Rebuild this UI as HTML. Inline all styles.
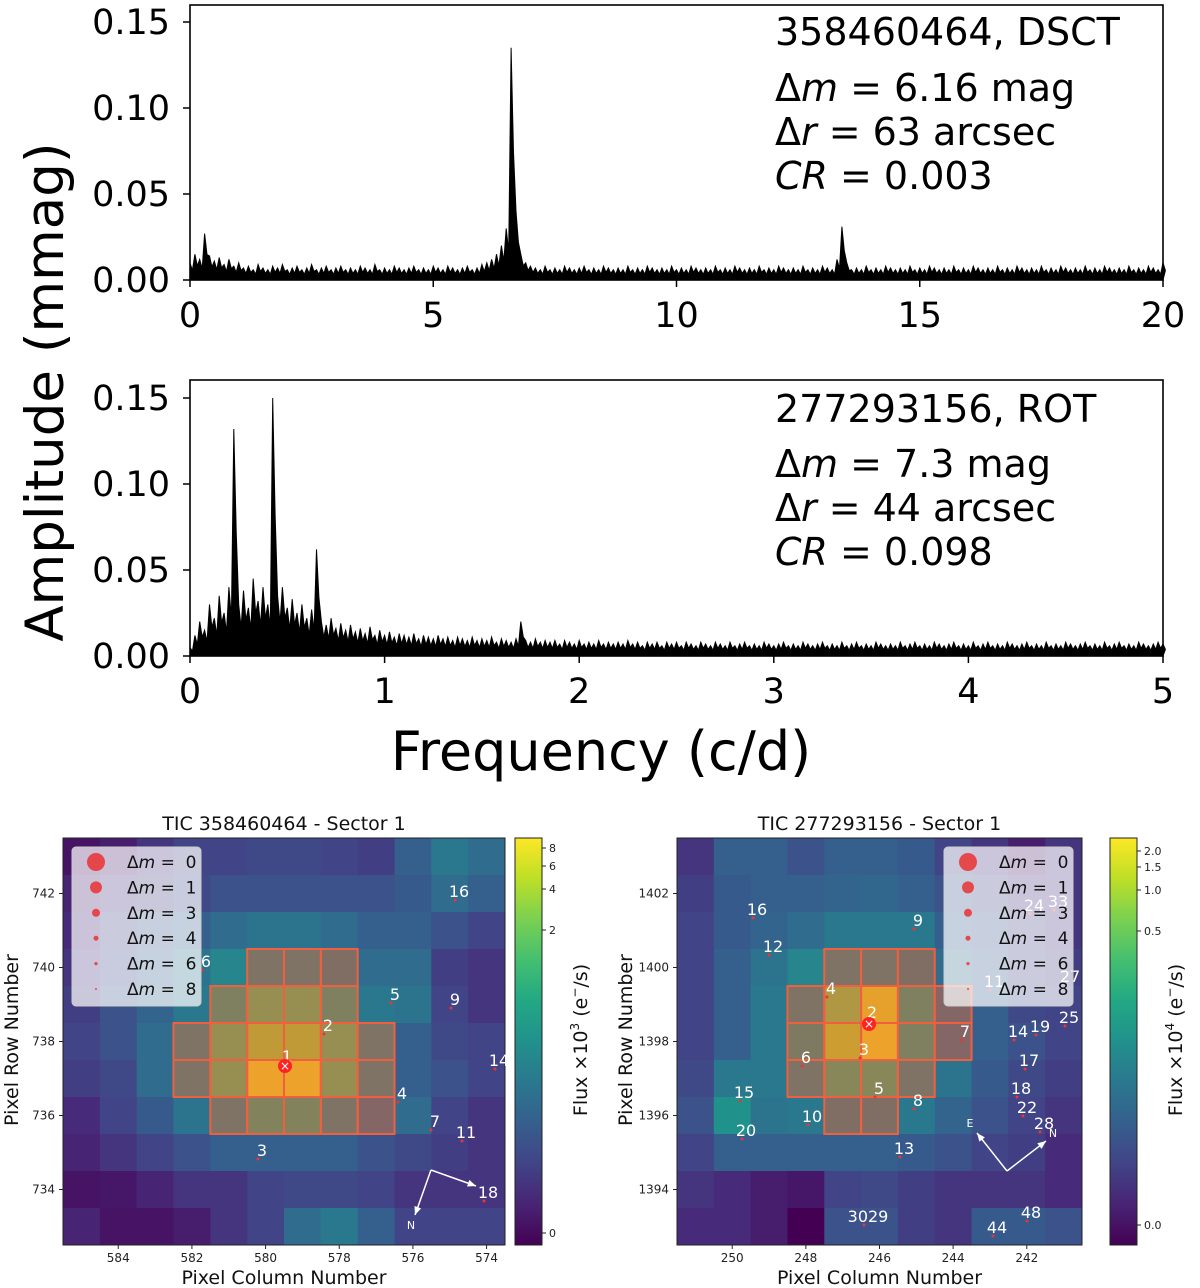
<!DOCTYPE html>
<html><head><meta charset="utf-8"><style>
html,body{margin:0;padding:0;background:#fff}
svg{display:block;font-family:"DejaVu Sans","Liberation Sans",sans-serif}
</style></head><body>
<svg id="fig" width="1200" height="1288" viewBox="0 0 1200 1288" xmlns="http://www.w3.org/2000/svg">
<g id="top"></g><g id="bot"></g><g id="hl"></g><g id="hr"></g>
</svg>
<script>
// ---- Spectrum data ----
const topFreqStep = 0.1;
const topAmp = [0.010,0.015,0.012,0.027,0.014,0.011,0.013,0.009,0.012,0.008,0.010,
0.007,0.008,0.006,0.009,0.007,0.006,0.008,0.007,0.009,0.006,0.007,0.008,0.006,0.007,0.009,0.006,0.007,0.008,0.006,0.007,
0.008,0.006,0.007,0.006,0.008,0.007,0.006,0.009,0.006,0.007,0.006,0.008,0.007,0.006,0.007,0.008,0.006,0.007,0.006,0.008,
0.007,0.006,0.008,0.007,0.006,0.007,0.008,0.006,0.007,0.009,0.010,0.012,0.015,0.020,0.030,0.135,0.040,0.015,0.010,0.008,
0.007,0.006,0.008,0.006,0.007,0.006,0.008,0.007,0.006,0.007,0.008,0.006,0.007,0.006,0.008,0.007,0.006,0.007,0.006,0.008,
0.006,0.007,0.006,0.008,0.007,0.006,0.007,0.006,0.008,0.006,0.007,0.006,0.008,0.007,0.006,0.007,0.006,0.008,0.006,0.007,
0.006,0.008,0.007,0.006,0.007,0.006,0.008,0.006,0.007,0.006,0.008,0.007,0.006,0.007,0.006,0.008,0.006,0.007,0.006,0.008,
0.007,0.006,0.012,0.031,0.010,0.006,0.007,0.006,0.008,0.006,0.007,0.006,0.008,0.007,0.006,0.007,0.006,0.008,0.006,0.007,
0.006,0.008,0.007,0.006,0.007,0.006,0.008,0.006,0.007,0.006,0.008,0.007,0.006,0.007,0.006,0.008,0.006,0.007,0.006,0.008,
0.007,0.006,0.007,0.006,0.008,0.006,0.007,0.006,0.008,0.007,0.006,0.007,0.006,0.008,0.006,0.007,0.006,0.008,0.007,0.006,
0.007,0.006,0.008,0.006,0.007,0.006,0.008,0.007,0.006,0.010];
const botFreqStep = 0.025;
const botAmp = [0.005,0.012,0.020,0.015,0.030,0.022,0.035,0.025,0.040,0.132,0.030,0.038,0.028,0.045,0.032,0.040,0.030,0.150,0.035,0.040,
0.028,0.033,0.025,0.030,0.022,0.027,0.062,0.020,0.018,0.022,0.016,0.019,0.015,0.018,0.014,0.016,0.013,0.017,0.012,0.015,
0.012,0.014,0.011,0.013,0.012,0.011,0.013,0.010,0.012,0.011,0.010,0.012,0.010,0.011,0.009,0.011,0.010,0.009,0.011,0.009,
0.010,0.009,0.011,0.008,0.010,0.009,0.008,0.010,0.020,0.009,0.008,0.010,0.008,0.009,0.008,0.009,0.007,0.009,0.008,0.007,
0.009,0.007,0.008,0.007,0.009,0.007,0.008,0.007,0.008,0.007,0.009,0.007,0.008,0.006,0.008,0.007,0.008,0.006,0.008,0.007,
0.008,0.006,0.008,0.007,0.006,0.008,0.007,0.006,0.008,0.007,0.006,0.008,0.006,0.007,0.008,0.006,0.007,0.006,0.008,0.007,
0.006,0.007,0.008,0.006,0.007,0.006,0.008,0.007,0.006,0.007,0.008,0.006,0.007,0.006,0.008,0.006,0.007,0.008,0.006,0.007,
0.006,0.008,0.007,0.006,0.007,0.006,0.008,0.006,0.007,0.008,0.006,0.007,0.006,0.008,0.007,0.006,0.007,0.008,0.006,0.007,
0.006,0.008,0.006,0.007,0.008,0.006,0.007,0.006,0.008,0.007,0.006,0.007,0.008,0.006,0.007,0.006,0.008,0.006,0.007,0.006,
0.008,0.007,0.006,0.007,0.008,0.006,0.007,0.006,0.008,0.006,0.007,0.008,0.006,0.007,0.006,0.008,0.007,0.006,0.007,0.008,0.007];
const yTicks = [0, 0.05, 0.10, 0.15];
const yTickLabels = ["0.00","0.05","0.10","0.15"];
const topXTicks = [0,5,10,15,20];
const botXTicks = [0,1,2,3,4,5];

// ---- Heatmap data (normalized flux 0..1) ----
const leftCols = [585,584,583,582,581,580,579,578,577,576,575,574];
const leftRows = [743,742,741,740,739,738,737,736,735,734,733];
const leftFlux = [
[0.05,0.08,0.15,0.20,0.20,0.22,0.22,0.20,0.18,0.30,0.40,0.35],
[0.10,0.15,0.18,0.22,0.25,0.25,0.25,0.25,0.25,0.28,0.35,0.30],
[0.12,0.20,0.25,0.30,0.35,0.38,0.38,0.35,0.30,0.30,0.25,0.20],
[0.15,0.22,0.30,0.38,0.45,0.50,0.50,0.45,0.35,0.35,0.18,0.15],
[0.18,0.25,0.32,0.40,0.60,0.72,0.72,0.60,0.40,0.38,0.20,0.15],
[0.20,0.25,0.35,0.50,0.72,0.85,0.85,0.72,0.50,0.30,0.22,0.20],
[0.18,0.22,0.35,0.50,0.72,0.97,0.97,0.72,0.50,0.30,0.25,0.20],
[0.12,0.20,0.28,0.38,0.50,0.62,0.62,0.50,0.40,0.35,0.20,0.15],
[0.10,0.15,0.20,0.25,0.30,0.30,0.30,0.30,0.25,0.22,0.18,0.15],
[0.05,0.06,0.10,0.15,0.15,0.20,0.22,0.22,0.20,0.15,0.15,0.15],
[0.10,0.05,0.05,0.08,0.15,0.20,0.35,0.40,0.30,0.20,0.20,0.20]];
const leftAperture = [[3,5],[3,6],[3,7],[4,4],[4,5],[4,6],[4,7],[5,3],[5,4],[5,5],[5,6],[5,7],[5,8],[6,3],[6,4],[6,5],[6,6],[6,7],[6,8],[7,4],[7,5],[7,6],[7,7],[7,8]];
const rightCols = [251,250,249,248,247,246,245,244,243,242,241];
const rightRows = [1403,1402,1401,1400,1399,1398,1397,1396,1395,1394,1393];
const rightFlux = [
[0.15,0.30,0.30,0.25,0.30,0.30,0.28,0.20,0.15,0.08,0.15],
[0.18,0.28,0.30,0.30,0.32,0.33,0.30,0.25,0.20,0.15,0.15],
[0.20,0.28,0.32,0.35,0.40,0.40,0.40,0.30,0.25,0.20,0.15],
[0.20,0.30,0.38,0.45,0.50,0.50,0.45,0.35,0.28,0.20,0.18],
[0.20,0.30,0.40,0.50,0.80,0.95,0.60,0.40,0.30,0.22,0.20],
[0.20,0.30,0.40,0.55,0.88,0.97,0.60,0.40,0.30,0.25,0.20],
[0.22,0.40,0.40,0.50,0.65,0.65,0.50,0.38,0.28,0.22,0.18],
[0.25,0.50,0.38,0.40,0.45,0.45,0.40,0.32,0.25,0.20,0.15],
[0.20,0.30,0.30,0.30,0.30,0.30,0.28,0.25,0.20,0.18,0.12],
[0.15,0.12,0.08,0.06,0.20,0.22,0.18,0.15,0.15,0.15,0.12],
[0.12,0.12,0.08,0.00,0.25,0.25,0.18,0.15,0.28,0.28,0.25]];
const rightAperture = [[3,4],[3,5],[3,6],[4,3],[4,4],[4,5],[4,6],[4,7],[5,3],[5,4],[5,5],[5,6],[5,7],[6,3],[6,4],[6,5],[6,6],[7,4],[7,5]];
const leftStarLabels = [["16",459,891],["6",206,961],["5",395,994],["9",455,999],["2",328,1025],["1",287,1056],["14",499,1060],["4",402,1093],["7",435,1121],["11",466,1132],["3",262,1150],["18",488,1192]];
const rightStarLabels = [["16",757,909],["12",773,946],["9",918,920],["4",831,988],["2",872,1012],["7",965,1031],["3",864,1049],["6",806,1057],["15",744,1092],["5",879,1088],["8",918,1100],["10",812,1116],["20",746,1130],["13",904,1148],["11",994,981],["27",1070,976],["24",1034,905],["33",1058,901],["25",1069,1017],["19",1040,1026],["14",1018,1031],["17",1029,1060],["18",1021,1088],["22",1027,1107],["28",1044,1123],["3029",868,1216],["48",1031,1212],["44",997,1227]];
const legendDm = ["0","1","3","4","6","8"];
const legendR = [9,6,4,2.5,1.6,1];

const NS="http://www.w3.org/2000/svg";
function mk(tag, attrs, parent, text){const e=document.createElementNS(NS,tag);for(const k in attrs)e.setAttribute(k,attrs[k]);if(text!==undefined)e.textContent=text;parent.appendChild(e);return e;}

function spectrum(g, top, bottom, xmax, step, amps, xticks, ann, nm){
  const L=190,R=1163;
  const x=f=>Math.min(R,L+f/xmax*(R-L));
  const y=v=>bottom-v*1720;
  let d="M"+L+","+bottom;
  amps.forEach((a,i)=>{const px=x(i*step);d+="L"+px.toFixed(1)+","+y(a).toFixed(1)+"L"+(px+(x(step)-L)*0.5).toFixed(1)+","+y(a*0.55).toFixed(1);});
  d+="L"+R+","+bottom+"Z";
  const p=mk("path",{d:d,fill:"#000",stroke:"#000","stroke-width":"1","stroke-linejoin":"miter"},g);
  
  
  const b=mk("rect",{x:L,y:top,width:R-L,height:bottom-top,fill:"none",stroke:"#000","stroke-width":"1.6"},g);
  
  
  yTicks.forEach((v,i)=>{
    mk("line",{x1:L-7,x2:L,y1:y(v),y2:y(v),stroke:"#000","stroke-width":"1.5"},g);
    const t=mk("text",{x:170,y:y(v)+12,"text-anchor":"end","font-size":"35"},g,yTickLabels[i]);
    
    
  });
  xticks.forEach(v=>{
    mk("line",{x1:x(v),x2:x(v),y1:bottom,y2:bottom+7,stroke:"#000","stroke-width":"1.5"},g);
    const t=mk("text",{x:x(v),y:bottom+47,"text-anchor":"middle","font-size":"35"},g,String(v));
    
    
  });
  ann.forEach((a,i)=>{
    const t=mk("text",{x:775,y:a[1],"font-size":"38"},g);
    t.innerHTML=a[0];
    
    
  });
}
spectrum(document.getElementById("top"),5,280,20,topFreqStep,topAmp,topXTicks,
 [["358460464, DSCT",45],["Δ<tspan font-style='italic'>m</tspan> = 6.16 mag",101],["Δ<tspan font-style='italic'>r</tspan> = 63 arcsec",145],["<tspan font-style='italic'>CR</tspan> = 0.003",189]],"dsct");
spectrum(document.getElementById("bot"),380,656,5,botFreqStep,botAmp,botXTicks,
 [["277293156, ROT",422],["Δ<tspan font-style='italic'>m</tspan> = 7.3 mag",477],["Δ<tspan font-style='italic'>r</tspan> = 44 arcsec",521],["<tspan font-style='italic'>CR</tspan> = 0.098",565]],"rot");
{
 const s=document.getElementById("fig");
 const yl=mk("text",{x:0,y:0,transform:"translate(63,392) rotate(-90)","text-anchor":"middle","font-size":"53"},s,"Amplitude (mmag)");
 
 
 const xl=mk("text",{x:601,y:770,"text-anchor":"middle","font-size":"54"},s,"Frequency (c/d)");
 
 
}

const vir=[[68,1,84],[72,36,117],[65,68,135],[53,95,141],[42,120,142],[33,145,140],[34,168,132],[68,191,112],[122,209,81],[189,223,38],[253,231,37]];
function viridis(v){v=Math.max(0,Math.min(1,v));const f=v*10,i=Math.min(9,Math.floor(f)),t=f-i;const a=vir[i],b=vir[i+1];return "rgb("+a.map((c,k)=>Math.round(c+(b[k]-c)*t)).join(",")+")";}

function heatmap(g, L, R, T, B, cols, rows, flux, aper, labels, cbX, cbTicks, cbLabel, title, colTicks, rowTicks, legX, legDotX, compass, target, nm){
  const cw=(R-L)/cols.length, rh=(B-T)/rows.length;
  const cx=c=>L+(cols[0]+0.5-c)*cw, ry=r=>T+(rows[0]+0.5-r)*rh;
  flux.forEach((row,i)=>row.forEach((v,j)=>{
    const e=mk("rect",{x:L+j*cw,y:T+i*rh,width:cw+0.5,height:rh+0.5,fill:viridis(v)},g);
    
    
  }));
  aper.forEach(a=>{
    const e=mk("rect",{x:L+a[1]*cw,y:T+a[0]*rh,width:cw,height:rh,fill:"rgba(240,80,50,0.45)",stroke:"#f0603f","stroke-width":"2"},g);
    
    
  });
  mk("rect",{x:L,y:T,width:R-L,height:B-T,fill:"none",stroke:"#222","stroke-width":"1"},g);
  colTicks.forEach(c=>{mk("line",{x1:cx(c),x2:cx(c),y1:B,y2:B+4,stroke:"#222"},g);
    const t=mk("text",{x:cx(c),y:B+17,"text-anchor":"middle","font-size":"12",fill:"#222"},g,String(c));
    });
  rowTicks.forEach(r=>{mk("line",{x1:L-4,x2:L,y1:ry(r),y2:ry(r),stroke:"#222"},g);
    const t=mk("text",{x:L-8,y:ry(r)+4,"text-anchor":"end","font-size":"12",fill:"#222"},g,String(r));
    });
  const tt=mk("text",{x:(L+R)/2,y:830,"text-anchor":"middle","font-size":"19",fill:"#111"},g,title);
  
  const xt=mk("text",{x:(L+R)/2,y:1284,"text-anchor":"middle","font-size":"19",fill:"#111"},g,"Pixel Column Number");
  
  const yt=mk("text",{x:0,y:0,transform:"translate("+(L-45)+",1040) rotate(-90)","text-anchor":"middle","font-size":"19",fill:"#111"},g,"Pixel Row Number");
  
  labels.forEach(l=>{
    mk("circle",{cx:l[1]-4,cy:l[2]+9,r:1.5,fill:"#e33"},g);
    const t=mk("text",{x:l[1],y:l[2]+6,"text-anchor":"middle","font-size":"16",fill:"#fff"},g,l[0]);
    
  });
  const tg=mk("circle",{cx:target[0],cy:target[1],r:7,fill:"#f22"},g);
  
  mk("text",{x:target[0],y:target[1]+4,"text-anchor":"middle","font-size":"12",fill:"#fff"},g,"×");
  const c=compass;
  mk("path",{d:"M"+c[0]+","+c[1]+"L"+c[2]+","+c[3]+"M"+c[0]+","+c[1]+"L"+c[4]+","+c[5],stroke:"#fff","stroke-width":"1.5",fill:"none"},g);
  [[c[2],c[3],c[0],c[1]],[c[4],c[5],c[0],c[1]]].forEach(a=>{const ang=Math.atan2(a[1]-a[3],a[0]-a[2]);const p=(t,l)=>[a[0]-l*Math.cos(ang+t),a[1]-l*Math.sin(ang+t)];const p1=p(0.4,9),p2=p(-0.4,9);
    mk("path",{d:"M"+a[0]+","+a[1]+"L"+p1+"L"+p2+"Z",fill:"#fff"},g);});
  mk("text",{x:c[6],y:c[7],"text-anchor":"middle","font-size":"11",fill:"#fff"},g,c[8]);
  mk("text",{x:c[9],y:c[10],"text-anchor":"middle","font-size":"11",fill:"#fff"},g,c[11]);
  const lg=mk("rect",{x:legX,y:847,width:129,height:159,rx:4,fill:"rgba(255,255,255,0.72)",stroke:"#ccc"},g);
  
  legendDm.forEach((d,i)=>{
    const yy=862+i*25.4;
    mk("circle",{cx:legDotX,cy:yy,r:legendR[i],fill:"rgba(235,40,40,0.8)"},g);
    const t=mk("text",{x:legDotX+31,y:yy+6,"font-size":"17",fill:"#111"},g);
    t.innerHTML="Δ<tspan font-style='italic'>m</tspan> = &#160;"+d;
    
  });
  const gid=nm+"cb";
  const defs=mk("defs",{},g);const lgd=mk("linearGradient",{id:gid,x1:0,y1:1,x2:0,y2:0},defs);
  vir.forEach((v,i)=>mk("stop",{offset:i/10,"stop-color":"rgb("+v.join(",")+")"},lgd));
  const cb=mk("rect",{x:cbX,y:T,width:27,height:B-T,fill:"url(#"+gid+")",stroke:"#222"},g);
  
  cbTicks.forEach(t=>{mk("line",{x1:cbX+27,x2:cbX+31,y1:t[1],y2:t[1],stroke:"#222"},g);
    const e=mk("text",{x:cbX+34,y:t[1]+4,"font-size":"11",fill:"#222"},g,t[0]);
    });
  const cl=mk("text",{x:0,y:0,transform:"translate("+(cbX+72)+",1040) rotate(-90)","text-anchor":"middle","font-size":"19",fill:"#111"},g);
  cl.innerHTML=cbLabel;
  
}
heatmap(document.getElementById("hl"),63,505,838,1245,leftCols,leftRows,leftFlux,leftAperture,leftStarLabels,515,
 [["8",848],["6",866],["4",889],["2",930],["0",1233]],"Flux ×10<tspan dy='-8' font-size='12'>3</tspan><tspan dy='8'> (e</tspan><tspan dy='-8' font-size='12'>−</tspan><tspan dy='8'>/s)</tspan>",
 "TIC 358460464 - Sector 1",[584,582,580,578,576,574],[742,740,738,736,734],72,96,
 [431,1170,415,1215,476,1186,411,1229,"N",0,0,""],[285,1066],"left-tpf");
heatmap(document.getElementById("hr"),677,1082,838,1245,rightCols,rightRows,rightFlux,rightAperture,rightStarLabels,1110,
 [["2.0",851],["1.5",867],["1.0",890],["0.5",931],["0.0",1225]],"Flux ×10<tspan dy='-8' font-size='12'>4</tspan><tspan dy='8'> (e</tspan><tspan dy='-8' font-size='12'>−</tspan><tspan dy='8'>/s)</tspan>",
 "TIC 277293156 - Sector 1",[250,248,246,244,242],[1402,1400,1398,1396,1394],944,968,
 [1007,1171,977,1133,1046,1141,970,1127,"E",1053,1137,"N"],[869,1024],"right-tpf");
</script>
</body></html>
